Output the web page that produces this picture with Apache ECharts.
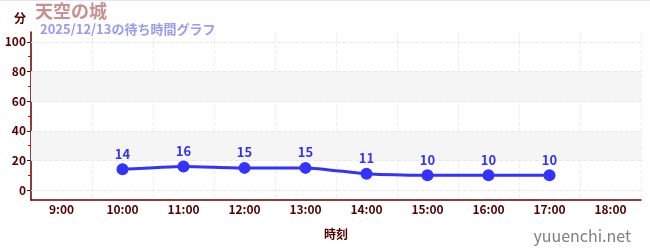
<!DOCTYPE html>
<html><head><meta charset="utf-8">
<script src="https://cdn.jsdelivr.net/npm/echarts@6/dist/echarts.min.js"></script>
<style>html,body{margin:0;padding:0;background:#fff}#c{width:650px;height:250px;border-top:1px solid #e4e4f8;box-sizing:border-box}</style>
</head><body><div id="c"></div>
<script>
const categories = ['9:00','10:00','11:00','12:00','13:00','14:00','15:00','16:00','17:00','18:00'];
const waitTimes = [null,14,16,15,15,11,10,10,10,null];
const yTicks = [0,20,40,60,80,100];
const yMinorTicks = [10,30,50,70,90];
const titleText = '天空の城';
const subText = '2025/12/13の待ち時間グラフ';

const chart = echarts.init(document.getElementById('c'));
const font = '"Noto Sans CJK JP","Noto Sans",sans-serif';
const yMin = -6.67, yMax = 106.67;
chart.setOption({
  animation:false,
  textStyle:{fontFamily:font},
  title:[
    {text:titleText,left:35,top:1,padding:0,textStyle:{color:'#c89090',fontSize:18,fontWeight:'bold',fontFamily:font}},
    {text:subText,left:40,top:22,padding:0,textStyle:{color:'#9a9af0',fontSize:13,fontWeight:'bold',fontFamily:font}},
    {text:'yuuenchi.net',right:14,top:222,textStyle:{color:'#808080',fontSize:16,fontWeight:'normal',fontFamily:font}}
  ],
  grid:{left:31,right:9,top:31,bottom:50},
  xAxis:{type:'category',data:categories,boundaryGap:true,
    name:'時刻',nameLocation:'middle',nameGap:28,
    nameTextStyle:{color:'#500',fontSize:12,fontWeight:'bold'},
    axisLine:{onZero:false,lineStyle:{color:'#600',width:1.5}},
    axisTick:{alignWithLabel:true,length:4,lineStyle:{color:'#888',width:2}},
    axisLabel:{color:'#500',fontSize:12,fontWeight:'bold',margin:3},
    splitLine:{show:true,lineStyle:{color:'#eee',type:'dashed'}}
  },
  yAxis:[{type:'value',min:yMin,max:yMax,
    name:'分',nameLocation:'end',nameGap:8,
    nameTextStyle:{color:'#500',fontSize:12,fontWeight:'bold',align:'right',padding:[0,5,0,0]},
    axisLine:{show:true,lineStyle:{color:'#600',width:1.5}},
    axisTick:{show:true,customValues:yTicks,length:4,lineStyle:{color:'#222'}},
    axisLabel:{customValues:yTicks,color:'#500',fontSize:12,fontWeight:'bold',margin:5},
    splitLine:{show:false}
  },{type:'value',min:yMin,max:yMax,position:'left',
    axisLine:{show:false},
    axisTick:{show:true,customValues:yMinorTicks,length:3,lineStyle:{color:'#d00'}},
    axisLabel:{show:false,customValues:yMinorTicks},
    splitLine:{show:false}
  }],
  series:[{type:'line',data:waitTimes,smooth:0.2,symbol:'circle',symbolSize:12,
    itemStyle:{color:'#3333ff'},lineStyle:{color:'#3333ff',width:3},
    label:{show:true,position:'top',color:'#3333f0',fontSize:13,fontWeight:'bold',distance:3},
    markArea:{silent:true,itemStyle:{color:'#f5f5f5'},data:[[{yAxis:20},{yAxis:40}],[{yAxis:60},{yAxis:80}]]},
    markLine:{silent:true,symbol:'none',label:{show:false},lineStyle:{color:'#e8e8e8',type:'dashed',width:1},
      data:yTicks.map(v=>({yAxis:v}))},
    z:5
  }]
});
</script></body></html>
